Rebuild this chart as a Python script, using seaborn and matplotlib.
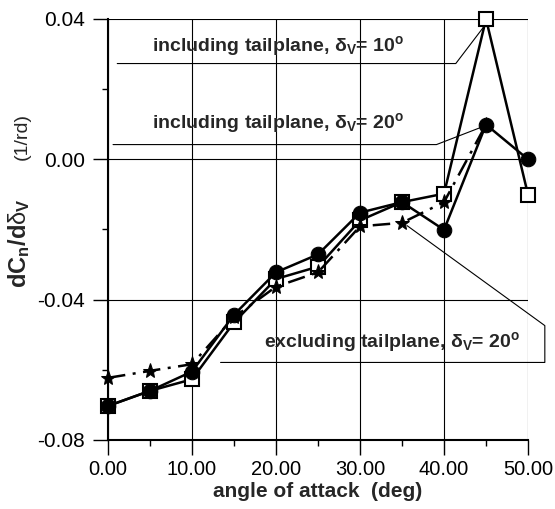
import matplotlib
matplotlib.use("Agg")
import matplotlib.pyplot as plt
import seaborn as sns
import numpy as np
import pandas as pd

# ---- data ----
alpha = [0, 5, 10, 15, 20, 25, 30, 35, 40, 45, 50]
incl_10 = [-0.0703, -0.0660, -0.0627, -0.0465, -0.0341, -0.0306, -0.0174, -0.0122, -0.0098, 0.0400, -0.0101]
incl_20 = [-0.0703, -0.0660, -0.0605, -0.0443, -0.0322, -0.0271, -0.0152, -0.0122, -0.0201, 0.0099, 0.0000]
alpha_ex = [0, 5, 10, 15, 20, 25, 30, 35, 40, 45]
excl_20 = [-0.0623, -0.0603, -0.0584, -0.0450, -0.0363, -0.0322, -0.0191, -0.0181, -0.0122, 0.0099]

xticks = [0, 10, 20, 30, 40, 50]
yticks = [-0.08, -0.04, 0.00, 0.04]

lbl_10 = r"including tailplane, δ${}_{\mathbf{V}}$= 10$^{\mathbf{o}}$"
lbl_20 = r"including tailplane, δ${}_{\mathbf{V}}$= 20$^{\mathbf{o}}$"
lbl_ex = r"excluding tailplane, δ${}_{\mathbf{V}}$= 20$^{\mathbf{o}}$"
ylab_main = r"$\mathbf{dC}_{\mathbf{n}}\mathbf{/d}$δ$_{\mathbf{V}}$"
ylab_unit = "(1/rd)"
xlab = "angle of attack  (deg)"

sns.set_style("white")
plt.rcParams['font.family'] = ['Liberation Sans', 'DejaVu Sans']
plt.rcParams['mathtext.fontset'] = 'custom'
plt.rcParams['mathtext.rm'] = 'Liberation Sans'
plt.rcParams['mathtext.bf'] = 'Liberation Sans:bold'
plt.rcParams['mathtext.it'] = 'Liberation Sans:italic'
plt.rcParams['mathtext.default'] = 'regular'
plt.rcParams['axes.unicode_minus'] = False

fig = plt.figure(figsize=(5.55, 5.09), dpi=100)
ax = fig.add_axes([0.1946, 0.1356, 0.9514 - 0.1946, 0.9627 - 0.1356])

df10 = pd.DataFrame({"a": alpha, "v": incl_10})
df20 = pd.DataFrame({"a": alpha, "v": incl_20})
dfex = pd.DataFrame({"a": alpha_ex, "v": excl_20})

sns.lineplot(data=df10, x="a", y="v", ax=ax, color="black", lw=1.8,
             marker="s", markersize=10, markerfacecolor="white",
             markeredgecolor="black", markeredgewidth=1.5, zorder=3, clip_on=False)
sns.lineplot(data=df20, x="a", y="v", ax=ax, color="black", lw=1.8,
             marker="o", markersize=10.5, markerfacecolor="black",
             markeredgecolor="black", zorder=4, clip_on=False)
sns.lineplot(data=dfex, x="a", y="v", ax=ax, color="black", lw=1.8,
             linestyle=(0, (7, 3, 1.2, 3)),
             marker="*", markersize=11, markerfacecolor="black",
             markeredgecolor="black", zorder=5, clip_on=False)

ax.set_xlim(0, 50)
ax.set_ylim(-0.08, 0.04)
ax.set_xticks(xticks)
ax.set_xticklabels([f"{t:.2f}" for t in xticks], fontsize=14.5)
ax.set_yticks(yticks)
ax.set_yticklabels([f"{t:.2f}" for t in yticks], fontsize=15)
ax.set_xticks([5, 15, 25, 35, 45], minor=True)
ax.set_yticks([-0.06, -0.02, 0.02], minor=True)
ax.tick_params(axis='x', which='major', direction='out', length=10.5, width=1,
               color='black', labelcolor='black', pad=4, bottom=True)
ax.tick_params(axis='y', which='major', direction='out', length=11, width=1,
               color='black', labelcolor='black', pad=5.5, left=True)
ax.tick_params(axis='both', which='minor', direction='out', length=4.5, width=1,
               color='black', bottom=True, left=True)
ax.grid(True, which='major', color='black', lw=0.8)

for s in ['top', 'right']:
    ax.spines[s].set_visible(False)
for s in ['left', 'bottom']:
    ax.spines[s].set_color('black')
    ax.spines[s].set_linewidth(1.5)

ax.set_xlabel(xlab, fontsize=15, fontweight='bold', labelpad=2)
ax.set_ylabel("")
fig.text(0.034, 0.5226, ylab_main, rotation=90, fontsize=17,
         ha='center', va='center')
fig.text(0.040, 0.731, ylab_unit, rotation=90, fontsize=14,
         ha='center', va='center')

# annotations with leader lines
kw = dict(color='black', lw=0.8, clip_on=False, zorder=2)
ax.text(5.2, 0.0323, lbl_10, fontsize=14, fontweight='bold', va='center', ha='left')
ax.plot([1.1, 41.4, 44.9], [0.0273, 0.0273, 0.0383], **kw)

ax.text(5.2, 0.0103, lbl_20, fontsize=14, fontweight='bold', va='center', ha='left')
ax.plot([0.6, 39.1, 44.5], [0.0042, 0.0042, 0.0092], **kw)

ax.text(18.6, -0.0522, lbl_ex, fontsize=14, fontweight='bold', va='center', ha='left')
ax.plot([13.4, 52.0, 52.0, 35.6], [-0.0579, -0.0579, -0.0474, -0.0189], **kw)

fig.savefig("out.png", dpi=100)
